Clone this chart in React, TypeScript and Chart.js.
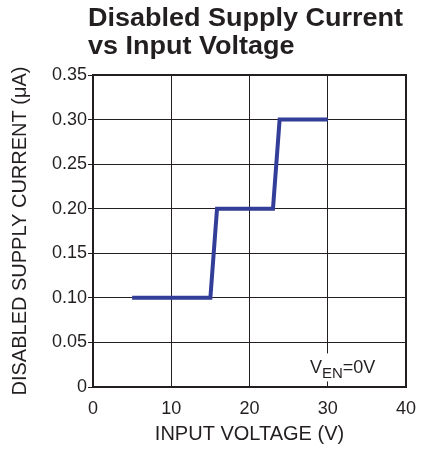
import React, { useEffect, useRef } from "react";
import { Chart, registerables } from "chart.js";

Chart.register(...registerables);

const inputVoltage = [5, 15.0, 15.85, 23.0, 23.85, 30];
const supplyCurrent = [0.1, 0.1, 0.2, 0.2, 0.3, 0.3];
const xTicks = [0, 10, 20, 30, 40];
const yTicks = [0, 0.05, 0.1, 0.15, 0.2, 0.25, 0.3, 0.35];
const titleLines = ["Disabled Supply Current", "vs Input Voltage"];
const xTitle = "INPUT VOLTAGE (V)";
const yTitle = "DISABLED SUPPLY CURRENT (\u03bcA)";

const FONT = "'Liberation Sans', Arial, Helvetica, sans-serif";
const TEXT = "#231f20";

const overlayPlugin = {
  id: "overlay",
  afterDraw(chart: any) {
    const { ctx, chartArea } = chart;
    const { left, right, top, bottom } = chartArea;
    ctx.save();
    // frame
    ctx.strokeStyle = "#231f20";
    ctx.lineWidth = 2;
    ctx.strokeRect(left, top, right - left, bottom - top);

    // title
    ctx.fillStyle = TEXT;
    ctx.font = `bold 25px ${FONT}`;
    ctx.textBaseline = "alphabetic";
    ctx.textAlign = "left";
    const baselines = [26, 54];
    titleLines.forEach((t, i) => {
      ctx.save();
      ctx.translate(88, baselines[i]);
      ctx.scale(1.08, 1);
      ctx.fillText(t, 0, 0);
      ctx.restore();
    });

    // annotation V_EN=0V
    const ys = chart.scales.y;
    const bx = 305;
    const by = ys.getPixelForValue(0.05) + 11;
    ctx.fillStyle = "#ffffff";
    ctx.fillRect(bx, by, 81, 28);
    ctx.fillStyle = TEXT;
    let x = 310;
    const base = 373;
    ctx.font = `18px ${FONT}`;
    ctx.fillText("V", x, base);
    x += ctx.measureText("V").width;
    ctx.font = `15px ${FONT}`;
    ctx.fillText("EN", x, base + 5);
    x += ctx.measureText("EN").width;
    ctx.font = `18px ${FONT}`;
    ctx.fillText("=0V", x, base);
    ctx.restore();
  },
};

export default function App() {
  const ref = useRef<HTMLCanvasElement | null>(null);
  useEffect(() => {
    document.body.style.margin = "0";
    const canvas = ref.current;
    if (!canvas) return;
    const chart = new Chart(canvas, {
      type: "scatter",
      data: {
        datasets: [
          {
            data: inputVoltage.map((v, i) => ({ x: v, y: supplyCurrent[i] })),
            showLine: true,
            borderColor: "#333e99",
            backgroundColor: "#333e99",
            borderWidth: 4,
            pointRadius: 0,
            borderJoinStyle: "miter",
            tension: 0,
          } as any,
        ],
      },
      options: {
        responsive: false,
        animation: false,
        devicePixelRatio: 1,
        layout: { padding: { top: 75, right: 24, left: 0, bottom: 0 } },
        plugins: {
          legend: { display: false },
          tooltip: { enabled: false },
          title: { display: false },
        },
        scales: {
          x: {
            type: "linear",
            min: 0,
            max: 40,
            afterFit: (s: any) => {
              s.height = 63;
            },
            afterBuildTicks: (s: any) => {
              s.ticks = xTicks.map((v) => ({ value: v }));
            },
            grid: { color: "#231f20", lineWidth: 1, drawTicks: false },
            border: { display: false },
            ticks: {
              color: TEXT,
              font: { family: FONT, size: 18 },
              padding: 11,
              maxRotation: 0,
              autoSkip: false,
            },
            title: {
              display: true,
              text: xTitle,
              color: TEXT,
              font: { family: FONT, size: 20 },
              padding: { top: 0, bottom: 4 },
            },
          },
          y: {
            type: "linear",
            min: 0,
            max: 0.35,
            afterFit: (s: any) => {
              s.width = 93;
            },
            afterBuildTicks: (s: any) => {
              s.ticks = yTicks.map((v) => ({ value: v }));
            },
            grid: {
              color: "#231f20",
              lineWidth: 1,
              drawTicks: true,
              tickLength: 5,
              tickColor: "#231f20",
            },
            border: { display: false },
            ticks: {
              color: TEXT,
              font: { family: FONT, size: 18 },
              padding: 1,
              autoSkip: false,
              callback: (v: any) => (Number(v) === 0 ? "0" : Number(v).toFixed(2)),
            },
            title: {
              display: true,
              text: yTitle,
              color: TEXT,
              font: { family: FONT, size: 20 },
              padding: { top: 8, bottom: 0 },
            },
          },
        },
      },
      plugins: [overlayPlugin],
    });
    return () => chart.destroy();
  }, []);
  return (
    <div style={{ width: 430, height: 450 }}>
      <canvas ref={ref} width={430} height={450} style={{ display: "block" }} />
    </div>
  );
}
